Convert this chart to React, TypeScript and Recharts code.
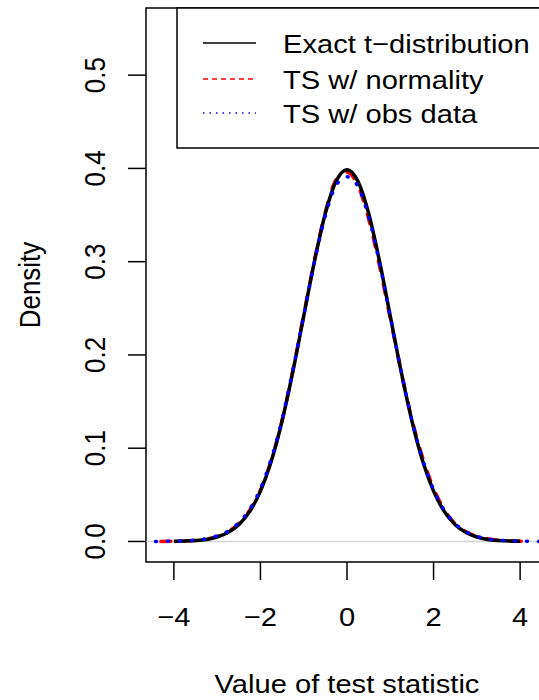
import { LineChart, Line, XAxis, YAxis, ReferenceLine, ReferenceArea } from 'recharts';

// density curves
const exactX = [-4, -3.75, -3.5, -3.25, -3, -2.75, -2.5, -2.25, -2, -1.75, -1.5, -1.25, -1, -0.75, -0.5, -0.25, 0, 0.25, 0.5, 0.75, 1, 1.25, 1.5, 1.75, 2, 2.25, 2.5, 2.75, 3, 3.25, 3.5, 3.75, 4];
const exactDensity = [0.0002, 0.0004, 0.001, 0.0022, 0.0048, 0.0096, 0.018, 0.032, 0.054, 0.086, 0.1292, 0.1823, 0.2417, 0.3008, 0.3519, 0.3865, 0.3987, 0.3865, 0.3519, 0.3008, 0.2417, 0.1823, 0.1292, 0.086, 0.054, 0.032, 0.018, 0.0096, 0.0048, 0.0022, 0.001, 0.0004, 0.0002];

const normX = [-4.3, -4, -3.75, -3.5, -3.25, -3, -2.75, -2.5, -2.25, -2, -1.75, -1.5, -1.25, -1, -0.75, -0.5, -0.25, 0, 0.25, 0.5, 0.75, 1, 1.25, 1.5, 1.75, 2, 2.25, 2.5, 2.75, 3, 3.25, 3.5, 3.75, 4, 4.2];
const normDensity = [0.0001, 0.0003, 0.0006, 0.0012, 0.0026, 0.0055, 0.0105, 0.0195, 0.0335, 0.055, 0.087, 0.13, 0.1835, 0.243, 0.302, 0.353, 0.388, 0.396, 0.382, 0.346, 0.296, 0.239, 0.182, 0.131, 0.0895, 0.057, 0.034, 0.019, 0.0105, 0.0055, 0.0028, 0.0014, 0.0007, 0.0003, 0.0001];

const obsX = [-4.7, -4.4, -4, -3.75, -3.5, -3.25, -3, -2.75, -2.5, -2.25, -2, -1.75, -1.5, -1.25, -1, -0.75, -0.5, -0.25, 0, 0.25, 0.5, 0.75, 1, 1.25, 1.5, 1.75, 2, 2.25, 2.5, 2.75, 3, 3.25, 3.5, 3.75, 4, 4.4, 4.7];
const obsDensity = [0, 0.0001, 0.0004, 0.0008, 0.0015, 0.003, 0.006, 0.011, 0.02, 0.0345, 0.0565, 0.0885, 0.131, 0.184, 0.242, 0.3, 0.349, 0.382, 0.391, 0.381, 0.348, 0.299, 0.241, 0.183, 0.13, 0.0875, 0.0555, 0.0335, 0.019, 0.0105, 0.0055, 0.0028, 0.0014, 0.0007, 0.0003, 0.0001, 0];

const xTicks = [-4, -2, 0, 2, 4];
const yTicks = [0, 0.1, 0.2, 0.3, 0.4, 0.5];
const legendLabels = ['Exact t\u2212distribution', 'TS w/ normality', 'TS w/ obs data'];

const exactData = exactX.map((x, i) => ({ x, y: exactDensity[i] }));
const normData = normX.map((x, i) => ({ x, y: normDensity[i] }));
const obsData = obsX.map((x, i) => ({ x, y: obsDensity[i] }));

const X_MIN = -4.644;
const X_MAX = 4.644;
const Y_MIN = -0.022;
const Y_MAX = 0.572;
const FONT = '"Liberation Sans", Arial, Helvetica, sans-serif';
const SX = 1.12;

function XTick({ x, y, payload }: any) {
  const v = payload.value;
  const label = v < 0 ? '\u2212' + Math.abs(v) : String(v);
  return (
    <text transform={`translate(${x},${y + 44}) scale(${SX},1)`} textAnchor="middle" fontSize={26} fontFamily={FONT} fill="#000">
      {label}
    </text>
  );
}

function YTick({ x, y, payload }: any) {
  return (
    <text transform={`translate(${x - 21},${y}) scale(${SX},1) rotate(-90)`} textAnchor="middle" fontSize={26} fontFamily={FONT} fill="#000">
      {Number(payload.value).toFixed(1)}
    </text>
  );
}

export default function App() {
  const rows = [
    { y: 43, stroke: '#000', dash: undefined as string | undefined },
    { y: 79, stroke: '#ff0000', dash: '5 4' },
    { y: 113, stroke: '#0000ff', dash: '1.5 5' },
  ];
  return (
    <div style={{ position: 'absolute', left: 0, top: 0, width: 539, height: 700, overflow: 'hidden', background: '#fff' }}>
      <LineChart width={560} height={700} margin={{ top: 8, right: 12, left: 86, bottom: 78 }}>
        <XAxis
          type="number"
          dataKey="x"
          domain={[X_MIN, X_MAX]}
          allowDataOverflow
          ticks={xTicks}
          axisLine={false}
          tickLine={{ stroke: '#000', strokeWidth: 1.5 }}
          tickSize={18}
          height={60}
          tick={<XTick />}
        />
        <YAxis
          type="number"
          dataKey="y"
          domain={[Y_MIN, Y_MAX]}
          allowDataOverflow
          ticks={yTicks}
          axisLine={false}
          tickLine={{ stroke: '#000', strokeWidth: 1.5 }}
          tickSize={18}
          width={60}
          tick={<YTick />}
        />
        <ReferenceLine y={0} stroke="#d3d3d3" strokeWidth={1.5} />
        <Line data={normData} dataKey="y" type="monotone" stroke="#ff0000" strokeWidth={3.5} strokeDasharray="10 14" strokeLinecap="round" dot={false} activeDot={false} isAnimationActive={false} />
        <Line data={exactData} dataKey="y" type="monotone" stroke="#000" strokeWidth={3.5} dot={false} activeDot={false} isAnimationActive={false} />
        <Line data={obsData} dataKey="y" type="monotone" stroke="#0000ff" strokeWidth={3.5} strokeDasharray="1 11" strokeLinecap="round" dot={false} activeDot={false} isAnimationActive={false} />
        <ReferenceArea x1={X_MIN} x2={X_MAX} y1={Y_MIN} y2={Y_MAX} fill="none" stroke="#000" strokeWidth={1.5} ifOverflow="visible" />
      </LineChart>
      <svg width={560} height={700} style={{ position: 'absolute', left: 0, top: 0, pointerEvents: 'none' }}>
        <rect x={177} y={8} width={371} height={140} fill="#fff" stroke="#000" strokeWidth={1.5} />
        {rows.map((r, i) => (
          <g key={i}>
            <line x1={203} x2={256} y1={r.y} y2={r.y} stroke={r.stroke} strokeWidth={1.6} strokeDasharray={r.dash} />
            <text transform={`translate(283,${r.y + 10}) scale(${SX},1)`} fontSize={26} fontFamily={FONT} fill="#000">
              {legendLabels[i]}
            </text>
          </g>
        ))}
        <text transform={`translate(347,693) scale(${SX},1)`} textAnchor="middle" fontSize={26} fontFamily={FONT} fill="#000">
          Value of test statistic
        </text>
        <text transform={`translate(40,285) scale(${SX},1) rotate(-90)`} textAnchor="middle" fontSize={26} fontFamily={FONT} fill="#000">
          Density
        </text>
      </svg>
    </div>
  );
}
